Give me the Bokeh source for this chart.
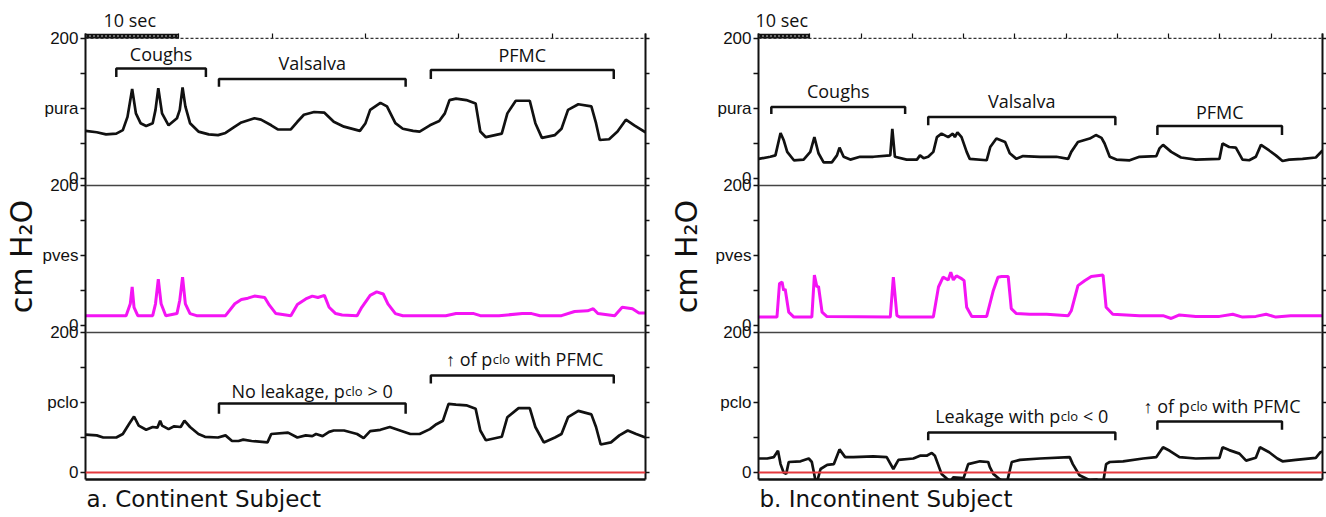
from bokeh.plotting import figure
from bokeh.models import (Range1d, LinearAxis, FixedTicker, Span, Title)
from bokeh.layouts import row
from bokeh.embed import file_html
from bokeh.resources import INLINE
from bokeh.core.properties import value

# ---------------- data: time (s) and pressure (cm H2O) ----------------
# a. Continent subject
a_ura_t = [0, 1.2, 2.2, 3.3, 4.0, 4.5, 5.0, 5.4, 5.9, 6.5, 7.2, 7.5, 7.8, 8.2, 8.9, 9.8, 10.1, 10.4, 10.7,
           11.2, 12.1, 13.2, 14.2, 15.0, 16.0, 16.7, 18.1, 18.8, 19.9, 20.6, 22.0, 22.7, 23.4, 24.5, 25.6,
           26.6, 27.7, 29.4, 30.0, 30.5, 31.6, 32.3, 33.2, 34.0, 35.1, 35.8, 36.9, 37.9, 38.5, 39.0, 39.7,
           40.8, 41.8, 42.3, 42.9, 44.6, 45.2, 46.1, 47.6, 48.2, 48.9, 50.3, 51.0, 51.7, 52.8, 54.2, 54.7,
           55.1, 56.1, 57.0, 57.9, 58.8, 60.0]
a_ura_v = [68, 66, 63, 64, 69, 88, 128, 93, 79, 75, 79, 98, 129, 93, 76, 86, 98, 130, 103,
           79, 67, 63, 62, 65, 74, 80, 86, 84, 76, 70, 70, 81, 91, 95, 94,
           81, 74, 68, 79, 98, 108, 103, 79, 71, 68, 67, 76, 82, 93, 112, 114,
           112, 107, 67, 59, 64, 93, 111, 111, 79, 58, 62, 71, 98, 106, 103, 79,
           55, 56, 67, 84, 76, 66]
a_ves_t = [0, 4.35, 4.8, 5.0, 5.2, 5.6, 7.2, 7.5, 7.8, 8.1, 8.6, 9.8, 10.1, 10.4, 10.7, 11.2, 11.9, 15.0,
           16.0, 16.7, 17.4, 18.1, 19.2, 19.7, 20.4, 22.0, 22.7, 23.6, 24.3, 24.9, 25.6, 26.1, 26.8, 27.5,
           29.1, 29.6, 30.5, 31.2, 31.9, 32.4, 33.2, 34.0, 38.6, 39.7, 41.6, 42.3, 44.3, 46.8, 47.8, 48.7,
           51.0, 52.4, 53.8, 54.4, 54.9, 56.7, 57.5, 58.6, 59.3, 60.0]
a_ves_v = [14, 14, 31, 55, 26, 14, 14, 31, 66, 31, 14, 17, 36, 69, 31, 17, 14, 14,
           31, 37, 39, 42, 40, 29, 17, 14, 30, 38, 42, 40, 43, 26, 17, 15,
           14, 26, 43, 48, 45, 31, 17, 14, 14, 17, 17, 14, 14, 17, 17, 14,
           14, 20, 21, 24, 17, 14, 26, 24, 18, 18]
a_clo_t = [0, 1.2, 1.9, 3.3, 4.0, 4.7, 5.2, 5.7, 6.5, 7.2, 7.7, 8.0, 8.2, 8.9, 9.5, 10.2, 10.6, 11.2, 12.1,
           12.8, 14.2, 15.0, 15.7, 16.4, 16.9, 17.8, 19.5, 19.9, 21.7, 22.7, 23.6, 24.3, 24.7, 25.4, 26.1,
           26.6, 27.7, 29.1, 29.8, 30.5, 31.6, 32.6, 33.7, 34.8, 35.8, 36.9, 37.6, 38.3, 38.9, 39.7, 40.8,
           41.8, 42.3, 42.9, 44.6, 45.2, 46.4, 47.6, 48.2, 49.1, 50.3, 51.0, 51.7, 52.8, 54.2, 54.7, 55.2,
           56.3, 57.2, 58.1, 59.0, 60.0]
a_clo_v = [54, 53, 50, 50, 55, 70, 80, 67, 61, 65, 64, 74, 67, 62, 66, 65, 74, 65, 55,
           51, 50, 53, 45, 45, 47, 45, 43, 55, 57, 50, 53, 52, 55, 52, 58,
           60, 60, 55, 49, 59, 61, 65, 60, 55, 55, 62, 69, 74, 98, 97, 96,
           91, 60, 46, 51, 79, 92, 92, 65, 43, 50, 55, 79, 88, 83, 65, 40,
           43, 53, 60, 55, 50]

# b. Incontinent subject
b_ura_t = [0, 2.3, 3.3, 4.3, 4.9, 5.6, 6.9, 8.8, 10.1, 10.9, 11.7, 12.7, 14.3, 15.3, 15.8, 16.6, 17.9,
           19.8, 22.4, 25.7, 26.1, 26.6, 28.9, 30.9, 31.5, 32.2, 33.1, 34.1, 34.8, 35.7, 37.0, 37.9, 38.3,
           38.8, 39.6, 40.6, 41.2, 44.5, 45.2, 46.4, 48.1, 49.0, 50.3, 51.6, 54.9, 58.1, 60.4, 61.0, 62.3,
           64.6, 65.8, 66.9, 67.5, 68.5, 69.8, 72.4, 74.3, 77.6, 78.2, 78.9, 80.5, 82.4, 85.3, 89.9, 90.5,
           91.8, 93.1, 94.4, 95.7, 97.0, 98.0, 99.6, 100.9, 102.2, 103.5, 106.1, 108.7, 110.0]
b_ura_v = [28, 31, 33, 65, 55, 38, 26, 27, 38, 59, 36, 23, 23, 33, 44, 31, 27,
           31, 31, 33, 71, 31, 27, 27, 33, 29, 31, 38, 59, 64, 59, 64, 59,
           66, 59, 38, 28, 26, 45, 57, 52, 36, 28, 32, 31, 31, 28, 38, 52,
           57, 62, 58, 50, 31, 27, 26, 31, 32, 43, 48, 38, 30, 27, 28, 50,
           45, 44, 27, 26, 31, 48, 40, 33, 25, 27, 28, 30, 40]
b_ves_t = [0, 3.6, 4.1, 4.6, 4.9, 5.2, 5.9, 6.9, 10.4, 10.9, 11.4, 11.7, 12.4, 13.3, 25.7, 26.3, 27.0,
           27.6, 34.1, 35.1, 36.0, 37.0, 37.5, 38.0, 38.6, 39.6, 40.1, 40.6, 41.6, 44.5, 45.8, 46.7, 47.4,
           48.7, 49.3, 50.3, 52.9, 56.2, 60.4, 61.0, 62.3, 63.6, 64.9, 67.2, 67.8, 69.1, 74.3, 78.9, 80.5,
           82.1, 85.3, 89.9, 92.5, 94.4, 97.0, 99.0, 100.9, 103.8, 110.0]
b_ves_v = [12, 12, 60, 62, 50, 52, 19, 12, 12, 72, 55, 56, 19, 13, 12, 69, 14,
           12, 12, 55, 69, 65, 76, 65, 71, 67, 64, 26, 13, 13, 50, 69, 70,
           70, 24, 17, 16, 16, 14, 21, 57, 64, 70, 72, 26, 16, 14, 14, 10,
           15, 13, 13, 16, 12, 13, 16, 12, 14, 14]
b_clo_t = [0, 1.7, 3.0, 3.8, 4.3, 4.9, 5.4, 5.9, 8.2, 9.8, 10.4, 11.1, 11.4, 12.1, 13.4, 14.7, 15.8,
           16.9, 18.5, 22.4, 25.0, 26.3, 27.3, 30.2, 31.5, 32.8, 33.8, 34.4, 35.7, 37.4, 38.0, 40.0, 40.9,
           43.2, 44.8, 45.1, 45.8, 47.1, 48.4, 49.4, 51.0, 54.9, 60.7, 61.3, 62.6, 64.6, 65.9, 67.2, 67.8,
           68.5, 71.1, 75.0, 77.6, 78.9, 80.2, 82.1, 85.3, 89.9, 90.5, 91.8, 93.8, 95.1, 97.0, 97.8, 99.6,
           101.2, 102.2, 104.8, 108.7, 109.6, 110.0]
b_clo_v = [20, 20, 22, 31, 12, 0, -2, 15, 16, 20, 15, -11, -14, 5, 11, 12, 33,
           22, 22, 23, 22, 5, 18, 20, 24, 24, 28, 24, -2, -13, -7, -8, 12,
           16, 15, 8, -2, -10, -16, 15, 18, 20, 22, 12, -4, -11, -10, -15, 12,
           15, 16, 20, 22, 36, 31, 22, 20, 21, 36, 32, 27, 17, 21, 36, 29,
           20, 16, 18, 21, 29, 30]

# time scale bar (s)
scale_bar = [0, 10]

# bracket annotations (start s, end s, bar level, foot level), label texts
a_ura_brk = dict(x0=[3.3, 14.3, 37.0], x1=[12.9, 34.3, 56.6], top=[157, 142, 155], foot=[145, 131, 142])
a_ura_lbl = dict(text=["Coughs", "Valsalva", "PFMC"], y=[178.5, 164.5, 176.5])
a_clo_brk = dict(x0=[14.3, 37.0], x1=[34.3, 56.6], top=[98.6, 138.6], foot=[84, 127])
a_clo_lbl = dict(pre=["No leakage, p", "\u2191 of p"], sub=["clo", "clo"],
                 post=["\u00a0> 0", "\u00a0with PFMC"], y=[116.5, 162])
b_ura_brk = dict(x0=[2.5, 33.1, 77.8], x1=[28.6, 69.6, 102.1], top=[102, 88, 75], foot=[92, 76, 62])
b_ura_lbl = dict(text=["Coughs", "Valsalva", "PFMC"], y=[124.5, 110.5, 95.5])
b_clo_brk = dict(x0=[33.1, 77.8], x1=[69.6, 102.1], top=[57, 73], foot=[46, 61])
b_clo_lbl = dict(pre=["Leakage with p", "\u2191 of p"], sub=["clo", "clo"],
                 post=["\u00a0< 0", "\u00a0with PFMC"], y=[81, 95.5])

# estimated pixel widths of composite text pieces (layout only)
PRE_W = {"No leakage, p": 113, "\u2191 of p": 52, "Leakage with p": 125}
POST_W = {"\u00a0> 0": 30, "\u00a0< 0": 30, "\u00a0with PFMC": 94}
SUB_W = 18

BLACK = "#111111"
MAGENTA = "#f414f4"
RED = "#e53a3f"
ANN_FONT = value("Open Sans")


def brackets(p, b, rng):
    xs, ys = [], []
    for x0, x1, t, f in zip(b["x0"], b["x1"], b["top"], b["foot"]):
        xs.append([x0, x0, x1, x1])
        ys.append([f, t, t, f])
    p.multi_line(xs, ys, line_color=BLACK, line_width=2.5, y_range_name=rng)


def simple_labels(p, b, lbl, rng):
    xc = [(a + c) / 2 for a, c in zip(b["x0"], b["x1"])]
    p.text(x=xc, y=lbl["y"], text=lbl["text"], text_align="center", text_baseline="alphabetic",
           text_font=ANN_FONT, text_font_size="18px", text_color=BLACK, y_range_name=rng)


def composite_labels(p, b, lbl, rng):
    xc = [(a + c) / 2 for a, c in zip(b["x0"], b["x1"])]
    for x, y, pre, sub, post in zip(xc, lbl["y"], lbl["pre"], lbl["sub"], lbl["post"]):
        total = PRE_W[pre] + SUB_W + POST_W[post]
        anchor = -total / 2 + PRE_W[pre]
        common = dict(text_baseline="alphabetic", text_font=ANN_FONT, text_color=BLACK, y_range_name=rng)
        p.text(x=[x], y=[y], text=[pre], x_offset=anchor, text_align="right", text_font_size="18px", **common)
        p.text(x=[x], y=[y], text=[sub], x_offset=anchor + 0.5, text_align="left", text_font_size="13px",
               **common)
        p.text(x=[x], y=[y], text=[post], x_offset=anchor + SUB_W, text_align="left",
               text_font_size="18px", **common)


def build(xmax, width, bl, br, ura, ves, clo, ura_brk, ura_lbl, clo_brk, clo_lbl, caption,
          ylab_standoff, sec_offset):
    # main range: pclo panel 0..200, pves panel shifted by 210, pura panel by 420
    top_ext = 7.1
    p = figure(width=width, height=517, x_range=Range1d(0, xmax), y_range=Range1d(-10, 620 + top_ext),
               output_backend="svg", toolbar_location=None, title=None,
               x_axis_location=None, y_axis_location=None,
               min_border_left=bl, min_border_right=br, min_border_top=33, min_border_bottom=38)
    p.extra_y_ranges = {"ura": Range1d(-430, 200 + top_ext), "ves": Range1d(-220, 410 + top_ext)}
    p.grid.grid_line_color = None
    p.outline_line_color = None
    p.background_fill_color = "white"
    p.border_fill_color = "white"

    ticks = [0, 50, 100, 150, 200, 210, 260, 310, 360, 410, 420, 470, 520, 570, 620]
    shown = {0: "0", 100: "pclo", 200: "200", 210: "0", 310: "pves", 410: "200",
             420: "0", 520: "pura", 620: "200"}
    overrides = {t: shown.get(t, "") for t in ticks}

    left = LinearAxis(ticker=FixedTicker(ticks=ticks, minor_ticks=[]), major_label_overrides=overrides,
                      major_tick_out=5, major_tick_in=0, major_label_standoff=2,
                      major_label_text_font="Liberation Sans", major_label_text_font_size="17px",
                      major_label_text_color=BLACK, axis_line_width=2, axis_line_color=BLACK,
                      major_tick_line_color=BLACK, major_tick_line_width=1.5,
                      axis_label="cm H\u2082O", axis_label_text_font="DejaVu Sans",
                      axis_label_text_font_size="30px", axis_label_text_font_style="normal",
                      axis_label_text_line_height=1.0,
                      axis_label_text_color=BLACK, axis_label_standoff=ylab_standoff)
    p.add_layout(left, "left")
    right = LinearAxis(ticker=FixedTicker(ticks=ticks, minor_ticks=[]),
                       major_label_overrides={t: "" for t in ticks},
                       major_tick_out=4, major_tick_in=0, major_label_standoff=0,
                       major_label_text_font_size="1px", major_label_text_color=None,
                       axis_line_width=2, axis_line_color=BLACK,
                       major_tick_line_color=BLACK, major_tick_line_width=1.5)
    p.add_layout(right, "right")
    xt = list(range(0, xmax + 1, 10))
    top = LinearAxis(ticker=FixedTicker(ticks=xt, minor_ticks=[]),
                     major_label_overrides={t: "" for t in xt},
                     major_label_text_font_size="1px", major_label_text_color=None, major_label_standoff=0,
                     major_tick_out=0, major_tick_in=5, axis_line_color=None,
                     major_tick_line_color=BLACK, major_tick_line_width=1.2)
    p.add_layout(top, "above")
    p.add_layout(Title(text="10 sec", align="left", offset=sec_offset, standoff=3,
                       text_font="Open Sans", text_font_size="18px", text_font_style="normal",
                       text_color=BLACK), "above")
    bottom = LinearAxis(ticker=FixedTicker(ticks=[]), major_label_text_font_size="1px",
                        major_label_standoff=0, major_tick_out=0, major_tick_in=0,
                        axis_line_width=2.5, axis_line_color=BLACK)
    p.add_layout(bottom, "below")
    p.add_layout(Title(text=caption, align="left", offset=1, standoff=9,
                       text_font="DejaVu Sans", text_font_size="23px", text_font_style="normal",
                       text_color=BLACK), "below")

    # time axis line at 200 of top panel, panel separators and zero line
    p.add_layout(Span(location=620, dimension="width", line_color="#333333", line_width=1.2,
                      line_dash="3 2"))
    for loc in (200, 410):
        p.add_layout(Span(location=loc, dimension="width", line_color="#444444", line_width=1.5))
    p.add_layout(Span(location=0, dimension="width", line_color=RED, line_width=2.2))

    # 10 s scale bar
    bar_y = 620 + top_ext / 2
    p.line(scale_bar, [bar_y, bar_y], line_color=BLACK, line_width=5)
    p.line(scale_bar, [bar_y, bar_y], line_color="white", line_width=1.3, line_dash="1 3")

    # traces
    p.line(ura[0], ura[1], line_color=BLACK, line_width=2.7, y_range_name="ura")
    p.line(ves[0], ves[1], line_color=MAGENTA, line_width=3, y_range_name="ves")
    p.line(clo[0], clo[1], line_color=BLACK, line_width=2.7)

    brackets(p, ura_brk, "ura")
    simple_labels(p, ura_brk, ura_lbl, "ura")
    brackets(p, clo_brk, "default")
    composite_labels(p, clo_brk, clo_lbl, "default")
    return p


pa = build(60, 655, 79, 10, (a_ura_t, a_ura_v), (a_ves_t, a_ves_v), (a_clo_t, a_clo_v),
           a_ura_brk, a_ura_lbl, a_clo_brk, a_clo_lbl, "a. Continent Subject", 1, 18)
pb = build(110, 671, 103, 4, (b_ura_t, b_ura_v), (b_ves_t, b_ves_v), (b_clo_t, b_clo_v),
           b_ura_brk, b_ura_lbl, b_clo_brk, b_clo_lbl, "b. Incontinent Subject", 9, -3)

layout = row(pa, pb)
open("out.html", "w").write(file_html(layout, INLINE))
